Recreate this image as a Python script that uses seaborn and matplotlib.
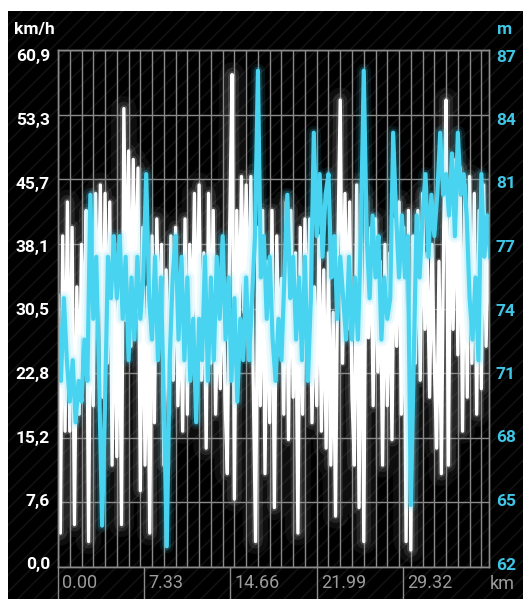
import numpy as np
import pandas as pd
import matplotlib
matplotlib.use("Agg")
import matplotlib.pyplot as plt
import matplotlib.transforms as mtransforms
from matplotlib.patches import Rectangle
import seaborn as sns

# ---- data -------------------------------------------------------------
speed_step_km = 0.2
speed_kmh = [
    32, 4, 39, 16, 43,   16, 40, 5, 33, 18,   38, 26, 42, 3, 40,
    19, 44, 28, 45, 20,  44, 24, 43, 12, 36,  13, 38, 5, 54, 29,
    49, 26, 48, 30, 47,  9, 40, 12, 33, 4,    39, 17, 41, 27, 38,
    12, 35, 18, 39, 22,  40, 19, 33, 16, 41,  18, 38, 26, 44, 24,
    45, 22, 37, 14, 44,  24, 42, 18, 31, 21,  38, 20, 11, 40, 58,
    8, 42, 27, 46, 30,   45, 26, 46, 22, 3,   40, 19, 42, 11, 36,
    17, 42, 7, 39, 25,   34, 18, 43, 15, 42,  20, 37, 4, 40, 18,
    41, 26, 41, 17, 33,  19, 39, 16, 35, 14,  37, 12, 30, 6, 38,
    55, 24, 44, 28, 43,  20, 12, 45, 7, 44,   3, 43, 27, 40, 19,
    41, 23, 36, 12, 38,  19, 37, 15, 41, 26,  43, 18, 40, 3, 42,
    2, 39, 24, 42, 22,   44, 28, 37, 20, 38,  24, 14, 36, 11, 40,
    55, 12, 46, 28, 48,  25, 47, 16, 45, 20,  46, 24, 44, 18, 42,
    21, 45, 26, 38, 30,
]

elev_step_km = 0.25
elevation_m = [
    74, 71, 75, 72,  70, 72, 69, 71,  70, 73, 71, 80,  74, 77, 71, 64,
    70, 77, 75, 78,  75, 78, 74, 77,  72, 76, 73, 77,  74, 76, 81, 75,
    73, 77, 72, 76,  70, 63, 72, 76,  78, 73, 77, 72,  76, 71, 74, 69,
    74, 72, 77, 71,  76, 72, 77, 74,  78, 73, 76, 71,  75, 70, 74, 72,
    76, 72, 75, 78,  86, 76, 78, 74,  77, 73, 71, 74,  72, 76, 80, 75,
    77, 73, 76, 72,  77, 71, 75, 83,  78, 81, 77, 80,  81, 76, 78, 74,
    77, 75, 73, 77,  73, 76, 73, 78,  86, 78, 75, 79,  76, 78, 73, 76,
    74, 75, 83, 79,  76, 79, 76, 78,  65, 72, 79, 76,  79, 81, 77, 80,
    78, 80, 83, 80,  81, 79, 82, 78,  83, 80, 81, 79,  75, 73, 76, 72,
    81, 77, 79, 77,
]

speed_tick_labels = ["0,0", "7,6", "15,2", "22,8", "30,5", "38,1", "45,7", "53,3", "60,9"]
elev_tick_labels = ["62", "65", "68", "71", "74", "77", "81", "84", "87"]
dist_tick_labels = ["0.00", "7.33", "14.66", "21.99", "29.32"]
dist_ticks = [0.0, 7.33, 14.66, 21.99, 29.32]

speed_range = (0.0, 60.9)
elev_range = (62.0, 87.0)
dist_range = (0.0, 36.65)

speed_df = pd.DataFrame({"km": np.arange(len(speed_kmh)) * speed_step_km,
                         "kmh": speed_kmh})
elev_df = pd.DataFrame({"km": np.arange(len(elevation_m)) * elev_step_km,
                        "m": elevation_m})

# ---- styling ----------------------------------------------------------
W, H = 523, 599
CYAN = "#48d4f0"
CYAN_TXT = "#3fc6e6"
GRID = "#8a8a8a"
plt.rcParams["font.family"] = ["Roboto", "DejaVu Sans"]
plt.rcParams["hatch.linewidth"] = 1.2

fig = plt.figure(figsize=(W / 100, H / 100), dpi=100, facecolor="white")

# black, finely striped backdrop
bg = Rectangle((8 / W, 0), 1 - 8 / W, (H - 11) / H, transform=fig.transFigure,
               facecolor="black", edgecolor="#121212", hatch="//",
               linewidth=0, zorder=-10)
fig.patches.append(bg)

ax = fig.add_axes([58 / W, 32 / H, 431 / W, 517 / H])
ax.set_facecolor("none")
ax2 = ax.twinx()

# speed trace with a wide grey halo
for lw, a, c in [(18, 0.12, "#7a7a7a"), (10, 0.16, "#9a9a9a"),
                 (5, 0.22, "#c4c4c4")]:
    ax.plot(speed_df["km"], speed_df["kmh"], color=c, lw=lw, alpha=a,
            solid_joinstyle="round", solid_capstyle="round")
sns.lineplot(data=speed_df, x="km", y="kmh", ax=ax, color="white",
             linewidth=2.4, sort=False)

# elevation trace with a soft halo
for lw, a in [(10, 0.10), (6, 0.18)]:
    ax2.plot(elev_df["km"], elev_df["m"], color=CYAN, lw=lw, alpha=a,
             solid_joinstyle="round", solid_capstyle="round")
sns.lineplot(data=elev_df, x="km", y="m", ax=ax2, color=CYAN,
             linewidth=3.0, sort=False)

ax.set_xlim(*dist_range)
ax.set_ylim(*speed_range)
ax2.set_ylim(*elev_range)

ax.set_xticks(np.arange(0, 37, 1))
ax.set_xticklabels([])
ax.set_yticks(np.linspace(*speed_range, len(speed_tick_labels)))
ax.set_yticklabels([])
ax2.set_yticks([])

ax.grid(True, color=GRID, lw=1.0)
ax2.grid(False)
ax.set_axisbelow(True)
ax.set_xlabel("")
ax.set_ylabel("")
ax2.set_ylabel("")
ax.tick_params(axis="both", length=0)

for a in (ax, ax2):
    for s in a.spines.values():
        s.set_color(GRID)
        s.set_linewidth(1.0)

# value labels on both sides, evenly spaced down the plot
n = len(speed_tick_labels)
for i in range(n):
    base_px = 569.5 - i * 63.5
    yb = (H - base_px) / H
    fig.text(50 / W, yb, speed_tick_labels[i], ha="right", va="baseline",
             color="white", fontsize=12.5, fontweight="bold")
    fig.text(496 / W, yb, elev_tick_labels[i], ha="left", va="baseline",
             color=CYAN_TXT, fontsize=12.5, fontweight="bold")

# distance strip below the plot
strip = -32 / 517
trans = mtransforms.blended_transform_factory(ax.transData, ax.transAxes)
for d, lab in zip(dist_ticks, dist_tick_labels):
    ax.plot([d, d], [strip, 0], color=GRID, lw=1.0, transform=trans,
            clip_on=False)
    ax.text(d + 0.38, strip / 2, lab, transform=trans, ha="left", va="center",
            color="#9c9c9c", fontsize=13)
fig.text(490 / W, (H - 584) / H, "km", ha="left", va="center",
         color="#9c9c9c", fontsize=13)

# axis units
fig.text(14 / W, (H - 34) / H, "km/h", ha="left", va="baseline",
         color="white", fontsize=12.5, fontweight="bold")
fig.text(497 / W, (H - 34) / H, "m", ha="left", va="baseline",
         color=CYAN_TXT, fontsize=12.5, fontweight="bold")

fig.savefig("out.png", dpi=100, facecolor=fig.get_facecolor())
